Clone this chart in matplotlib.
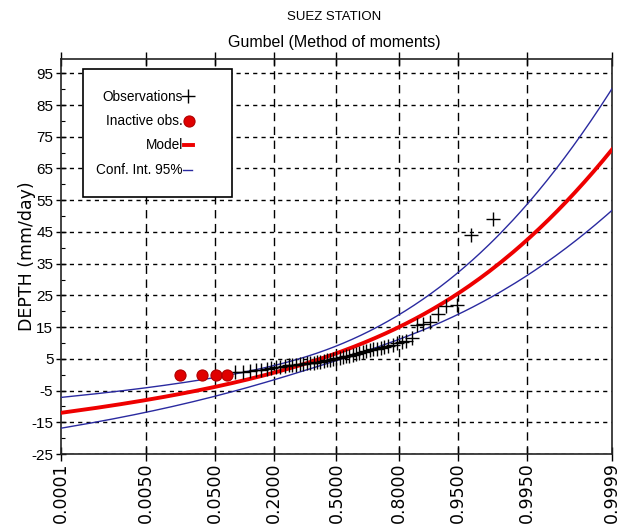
import math
from statistics import NormalDist

import matplotlib
matplotlib.use("Agg")
import matplotlib.pyplot as plt
from matplotlib import font_manager
from matplotlib.lines import Line2D
from matplotlib.patches import Rectangle
import numpy as np

# ---- data -------------------------------------------------------------
prob_ticks = [0.0001, 0.005, 0.05, 0.2, 0.5, 0.8, 0.95, 0.995, 0.9999]
prob_labels = ["0.0001", "0.0050", "0.0500", "0.2000", "0.5000",
               "0.8000", "0.9500", "0.9950", "0.9999"]
depth_ticks = list(range(-25, 96, 10))

# zero-rainfall years (excluded from the fit)
inactive_depth = [0.0, 0.0, 0.0, 0.0]
# remaining annual maxima, ascending (mm/day)
observed_depth = [0.7, 1.0, 1.2, 1.4, 1.6, 1.8, 2.1, 2.3, 2.5, 2.7,
                  2.9, 3.0, 3.2, 3.3, 3.4, 3.6, 3.7, 3.8, 3.9, 4.1,
                  4.3, 4.5, 4.7, 5.0, 5.2, 5.4, 5.6, 5.8, 6.0, 6.3,
                  6.5, 6.8, 7.2, 7.5, 7.8, 8.0, 8.2, 8.5, 8.8, 9.1,
                  9.5, 9.9, 10.3, 10.7, 11.5, 15.7, 16.0, 16.5, 19.0, 21.5,
                  22.0, 44.0, 49.0]

# Gumbel parameters (method of moments)
gumbel_loc = 4.1
gumbel_scale = 7.26
conf_level_z = 1.96

# ---- helpers ----------------------------------------------------------
nd = NormalDist()


def prob_axis(p):
    return np.array([nd.inv_cdf(float(v)) for v in np.atleast_1d(p)])


def pick_font(names):
    available = {f.name for f in font_manager.fontManager.ttflist}
    for n in names:
        if n in available:
            return n
    return "DejaVu Sans"


narrow = pick_font(["Liberation Sans Narrow", "Liberation Sans", "Arial"])

W, H = 625, 524
fig = plt.figure(figsize=(W / 100, H / 100), dpi=100)
fig.patch.set_facecolor("white")


def fx(px):
    return px / W


def fy(py):
    return 1 - py / H


ax = fig.add_axes([fx(61), fy(454), fx(612) - fx(61), fy(59) - fy(454)])

# plotting positions (Weibull) for the full sample
n_total = len(inactive_depth) + len(observed_depth)
ranks = np.arange(1, n_total + 1)
pp = ranks / (n_total + 1)
x_all = prob_axis(pp)
n_inact = len(inactive_depth)

# fitted model and 95% confidence band
p_grid = np.concatenate([np.linspace(0.0001, 0.01, 60),
                         np.linspace(0.01, 0.99, 300),
                         1 - np.logspace(-2, -4, 60)])
x_grid = prob_axis(p_grid)
yred = -np.log(-np.log(p_grid))
q_model = gumbel_loc + gumbel_scale * yred
n_fit = len(observed_depth)
sd = gumbel_scale * math.pi / math.sqrt(6)
K = (yred - 0.5772) * math.sqrt(6) / math.pi
se = sd / math.sqrt(n_fit) * np.sqrt(1 + 1.1396 * K + 1.1 * K ** 2)
q_lo = q_model - conf_level_z * se
q_hi = q_model + conf_level_z * se

blue = "#2a2aa0"
ax.plot(x_grid, q_hi, color=blue, lw=1.0, zorder=3)
ax.plot(x_grid, q_lo, color=blue, lw=1.0, zorder=3)
ax.plot(x_grid, q_model, color="#ee0000", lw=2.8, zorder=4)
ax.plot(x_all[n_inact:], observed_depth, ls="none", marker="+", ms=10,
        mew=1.0, color="black", zorder=5)
ax.plot(x_all[:n_inact], inactive_depth, ls="none", marker="o", ms=8,
        mfc="#e00000", mec="#b00000", mew=0.8, zorder=6)

# axes
xt = prob_axis(prob_ticks)
ax.set_xlim(xt[0], xt[-1])
ax.set_ylim(-25, 99.5)
ax.set_xticks(xt)
ax.set_xticklabels(prob_labels, rotation=90, family="DejaVu Sans",
                   fontsize=12.5, va="top")
ax.set_yticks(depth_ticks)
ax.set_yticklabels([str(v) for v in depth_ticks], family=narrow, fontsize=11)
ax.set_yticks(list(range(-20, 96, 10)), minor=True)
ax.tick_params(axis="x", which="major", direction="inout", length=10,
               width=1, top=True, pad=1)
ax.tick_params(axis="y", which="major", direction="inout", length=7,
               width=1, pad=2)
ax.tick_params(axis="y", which="minor", direction="in", length=3, width=0.8)

for v in depth_ticks:
    ax.axhline(v, color="black", lw=1.0, ls=(0, (3, 3)), zorder=1)
for v in xt[1:-1]:
    ax.axvline(v, color="black", lw=1.0, ls=(0, (6, 4)), zorder=1)

for s in ax.spines.values():
    s.set_linewidth(1.2)
    s.set_color("#222222")

ax.set_ylabel("DEPTH (mm/day)", family="DejaVu Sans", fontsize=12.5,
              labelpad=-3)

# titles
fig.text(fx(334), fy(17), "SUEZ STATION", family=narrow, fontsize=9.5,
         ha="center", va="center")
fig.text(fx(334), fy(42), "Gumbel (Method of moments)", family=narrow,
         fontsize=11.5, ha="center", va="center")

# legend box
fig.patches.append(Rectangle((fx(83), fy(197)), fx(232) - fx(83),
                             fy(69) - fy(197), transform=fig.transFigure,
                             facecolor="white", edgecolor="black", lw=1.2,
                             zorder=10))
rows = [("Observations", 97), ("Inactive obs.", 121), ("Model", 145),
        ("Conf. Int. 95%", 170)]
for label, ypx in rows:
    fig.text(fx(183), fy(ypx), label, family=narrow, fontsize=9.8,
             ha="right", va="center", zorder=11)
fig.add_artist(Line2D([fx(188)], [fy(96)], marker="+", ms=10, mew=1.0,
                      color="black", zorder=12))
fig.add_artist(Line2D([fx(188.5)], [fy(121)], marker="o", ms=8,
                      mfc="#e00000", mec="#b00000", mew=0.8, zorder=12))
fig.add_artist(Line2D([fx(184), fx(193)], [fy(145), fy(145)],
                      color="#ee0000", lw=2.8, zorder=12))
fig.add_artist(Line2D([fx(183), fx(192)], [fy(170), fy(170)],
                      color=blue, lw=1.0, zorder=12))

fig.savefig("out.png", dpi=100, facecolor="white")
